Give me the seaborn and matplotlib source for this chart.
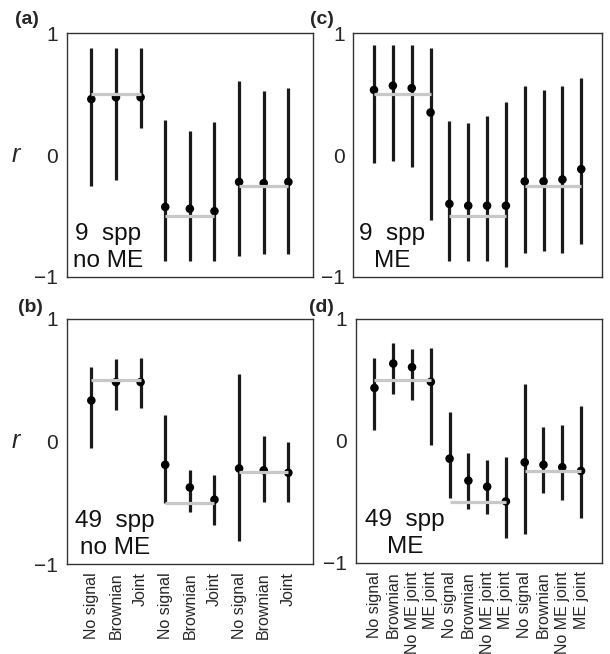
import numpy as np
import pandas as pd
import matplotlib
matplotlib.use("Agg")
import matplotlib.pyplot as plt
import seaborn as sns

# ---------------- data ----------------
labels3 = ["No signal", "Brownian", "Joint"]
labels4 = ["No signal", "Brownian", "No ME joint", "ME joint"]
true_vals = [0.5, -0.5, -0.25]

a_est = [0.46, 0.475, 0.475, -0.425, -0.44, -0.46, -0.22, -0.23, -0.22]
a_lo = [-0.25, -0.20, 0.225, -0.865, -0.865, -0.865, -0.83, -0.815, -0.815]
a_hi = [0.88, 0.88, 0.88, 0.285, 0.20, 0.27, 0.61, 0.53, 0.555]

b_est = [0.335, 0.485, 0.485, -0.19, -0.375, -0.475, -0.22, -0.235, -0.255]
b_lo = [-0.05, 0.255, 0.27, -0.505, -0.575, -0.68, -0.81, -0.49, -0.49]
b_hi = [0.605, 0.67, 0.685, 0.215, -0.23, -0.275, 0.555, 0.045, -0.005]

c_est = [0.535, 0.57, 0.55, 0.35, -0.40, -0.415, -0.415, -0.415, -0.215, -0.215, -0.20, -0.115]
c_lo = [-0.065, -0.05, -0.095, -0.53, -0.865, -0.865, -0.865, -0.915, -0.80, -0.785, -0.80, -0.73]
c_hi = [0.90, 0.90, 0.90, 0.88, 0.28, 0.265, 0.32, 0.435, 0.57, 0.535, 0.57, 0.635]

d_est = [0.435, 0.635, 0.605, 0.485, -0.145, -0.325, -0.375, -0.495, -0.175, -0.195, -0.215, -0.245]
d_lo = [0.09, 0.385, 0.34, -0.03, -0.465, -0.56, -0.595, -0.795, -0.765, -0.425, -0.48, -0.63]
d_hi = [0.68, 0.80, 0.75, 0.765, 0.235, -0.10, -0.155, -0.13, 0.47, 0.115, 0.135, 0.285]

# ---------------- style ----------------
sns.set_style("white")
plt.rcParams["font.family"] = ["Liberation Sans", "DejaVu Sans"]

W, H = 610, 654
fig = plt.figure(figsize=(W / 100, H / 100), dpi=100)


def px_axes(left, right, top, bottom):
    return fig.add_axes([left / W, 1 - bottom / H, (right - left) / W, (bottom - top) / H])


panels = [
    dict(tag="(a)", est=a_est, lo=a_lo, hi=a_hi, labels=labels3, box=(66.7, 313, 33.3, 277),
         xlim=(0, 10), text="9  spp\nno ME", tx=0.168, ylab=True, xt=False, tagpos=(15, 20)),
    dict(tag="(c)", est=c_est, lo=c_lo, hi=c_hi, labels=labels4, box=(353.3, 602, 33.3, 277),
         xlim=(-0.1, 13.1), text="9  spp\nME", tx=0.155, ylab=False, xt=False, tagpos=(310, 20)),
    dict(tag="(b)", est=b_est, lo=b_lo, hi=b_hi, labels=labels3, box=(66.7, 313, 319, 564),
         xlim=(0, 10), text="49  spp\nno ME", tx=0.195, ylab=True, xt=True, tagpos=(18, 307)),
    dict(tag="(d)", est=d_est, lo=d_lo, hi=d_hi, labels=labels4, box=(355.7, 601.7, 319, 563),
         xlim=(0, 13.1), text="49  spp\nME", tx=0.2, ylab=False, xt=True, tagpos=(309, 307)),
]

bar_col = "#1a1a1a"
gray = "#c8c8c8"

for p in panels:
    ax = px_axes(*p["box"])
    n = len(p["est"])
    k = len(p["labels"])
    pos = np.arange(1, n + 1)
    df = pd.DataFrame({"pos": pos, "r": p["est"], "lo": p["lo"], "hi": p["hi"],
                       "method": p["labels"] * 3})
    ax.vlines(df["pos"], df["lo"], df["hi"], color=bar_col, lw=2.3, zorder=2)
    sns.scatterplot(data=df, x="pos", y="r", ax=ax, color="black", s=38,
                    edgecolor="none", zorder=3, legend=False)
    for g, tv in enumerate(true_vals):
        ax.hlines(tv, g * k + 1, g * k + k, color=gray, lw=2.3, zorder=4)

    ax.set_xlim(*p["xlim"])
    ax.set_ylim(-1, 1)
    ax.set_yticks([-1, 0, 1])
    ax.set_yticklabels(["\u22121", "0", "1"], fontsize=15)
    ax.tick_params(axis="y", direction="out", length=3, width=0.8, color="#333333", pad=3)
    ax.set_xlabel("")
    ax.set_ylabel("")
    if p["xt"]:
        ax.set_xticks(pos)
        ax.set_xticklabels(p["labels"] * 3, rotation=90, fontsize=11.5)
        ax.tick_params(axis="x", length=0, pad=6)
    else:
        ax.set_xticks([])
    for s in ax.spines.values():
        s.set_visible(True)
        s.set_color("#333333")
        s.set_linewidth(1.0)
    ax.text(p["tx"], 0.02, p["text"], transform=ax.transAxes, ha="center", va="bottom",
            fontsize=17.5, linespacing=1.3, color="#111111")
    if p["ylab"]:
        ax.text(-0.205, 0.5, "r", transform=ax.transAxes, ha="center", va="center",
                fontsize=18, style="italic")
    fig.text(p["tagpos"][0] / W, 1 - p["tagpos"][1] / H, p["tag"], ha="left", va="center",
             fontsize=14, fontweight="bold")

fig.savefig("out.png", dpi=100)
